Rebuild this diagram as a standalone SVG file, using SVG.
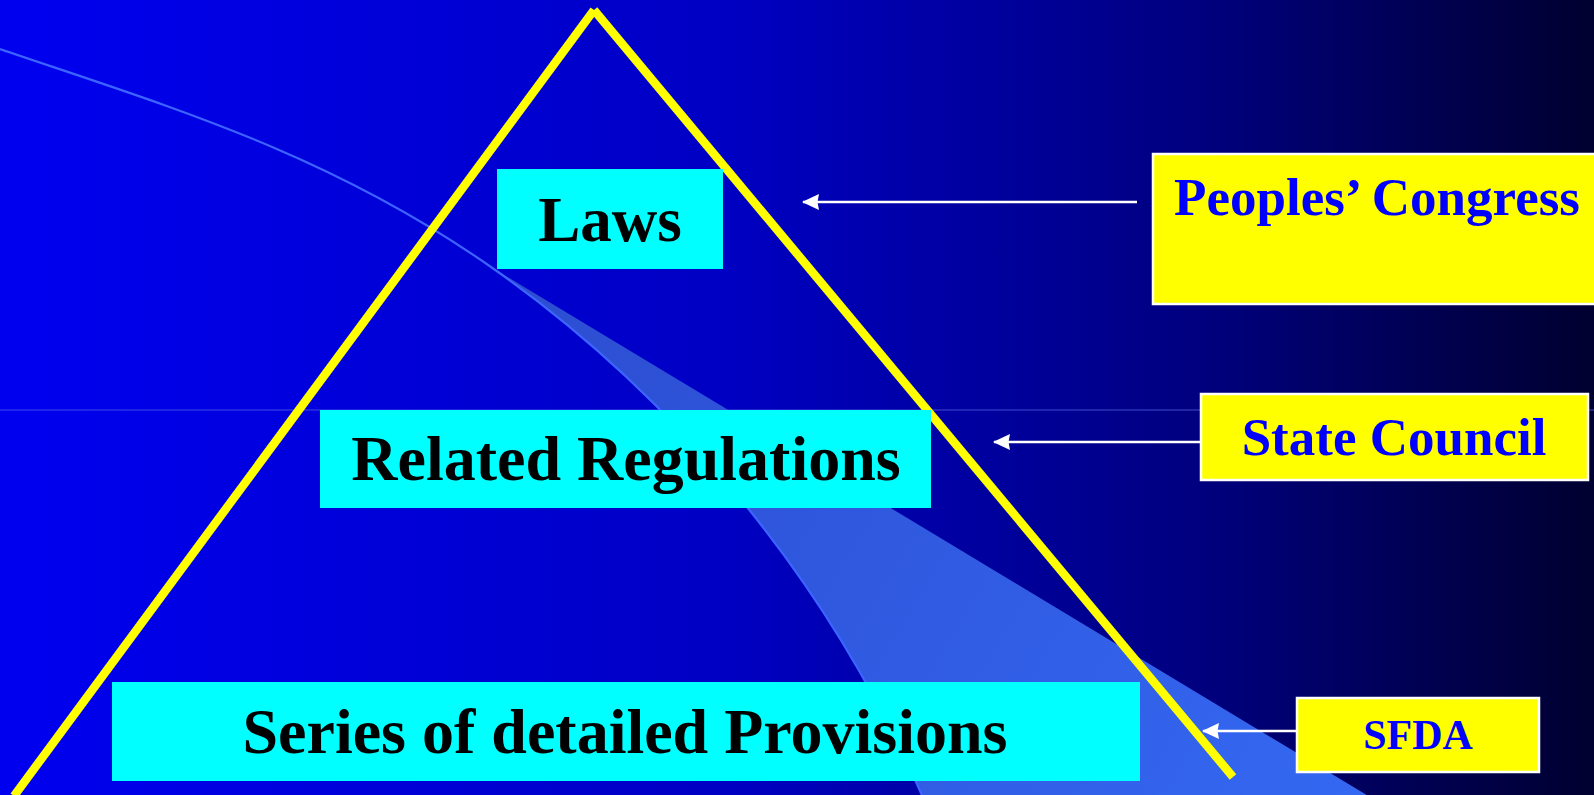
<svg xmlns="http://www.w3.org/2000/svg" width="1594" height="795" viewBox="0 0 1594 795">
  <defs>
    <linearGradient id="bg" x1="0" y1="0" x2="1" y2="0">
      <stop offset="0" stop-color="#0000F0"/>
      <stop offset="0.45" stop-color="#0000C4"/>
      <stop offset="0.75" stop-color="#000080"/>
      <stop offset="1" stop-color="#000030"/>
    </linearGradient>
    <linearGradient id="band" gradientUnits="userSpaceOnUse" x1="491" y1="267" x2="1370" y2="795">
      <stop offset="0" stop-color="#2C4CCF"/>
      <stop offset="1" stop-color="#3468F2"/>
    </linearGradient>
    <marker id="ah" markerWidth="17" markerHeight="16" refX="16" refY="8" orient="auto" markerUnits="userSpaceOnUse">
      <path d="M17,8 L0,0 L1.5,8 L0,16 Z" fill="#FFFFFF"/>
    </marker>
    <style>
      .cyan { fill: #00FFFF; }
      .yel { fill: #FFFF00; stroke: #FFFFFF; stroke-width: 2.5; }
      .blk { font-family: "Liberation Serif", "Times New Roman", serif; font-weight: bold; fill: #000000; text-anchor: middle; }
      .blu { font-family: "Liberation Serif", "Times New Roman", serif; font-weight: bold; fill: #0000FF; text-anchor: middle; }
      .leg { stroke: #FFFF00; stroke-width: 8.5; fill: none; }
      .arr { stroke: #FFFFFF; stroke-width: 2.7; fill: none; }
    </style>
  </defs>

  <g id="background">
    <rect x="0" y="0" width="1594" height="795" fill="url(#bg)"/>
    <line x1="0" y1="410" x2="1594" y2="410" stroke="#5A6AE6" stroke-width="1" opacity="0.7"/>
    <path d="M491,267 C661,386 822,565 924,800 L1375,800 Z" fill="url(#band)"/>
    <path d="M0,49 C164,105 327,152 491,267 C661,386 822,565 924,800" fill="none" stroke="#3D64FF" stroke-width="2.2"/>
  </g>

  <g id="triangle">
    <line class="leg" x1="594" y1="10" x2="14" y2="796"/>
    <line class="leg" x1="594" y1="10" x2="1233" y2="777"/>
  </g>

  <g id="node-laws">
    <rect class="cyan" x="497" y="169" width="226" height="100"/>
    <text class="blk" x="610" y="241" font-size="63">Laws</text>
  </g>

  <g id="node-regulations">
    <rect class="cyan" x="320" y="410" width="611" height="98"/>
    <text class="blk" x="626" y="480" font-size="64">Related Regulations</text>
  </g>

  <g id="node-provisions">
    <rect class="cyan" x="112" y="682" width="1028" height="99"/>
    <text class="blk" x="625" y="753" font-size="64">Series of detailed Provisions</text>
  </g>

  <g id="node-congress">
    <rect class="yel" x="1153" y="154" width="450" height="150"/>
    <text class="blu" x="1377" y="215" font-size="53">Peoples’ Congress</text>
  </g>

  <g id="node-council">
    <rect class="yel" x="1201" y="394" width="387" height="86"/>
    <text class="blu" x="1394" y="455" font-size="53">State Council</text>
  </g>

  <g id="node-sfda">
    <rect class="yel" x="1297" y="698" width="242" height="74"/>
    <text class="blu" x="1418" y="749" font-size="42">SFDA</text>
  </g>

  <g id="connectors">
    <line class="arr" x1="1137" y1="202" x2="803" y2="202" marker-end="url(#ah)"/>
    <line class="arr" x1="1200" y1="442" x2="994" y2="442" marker-end="url(#ah)"/>
    <line class="arr" x1="1296" y1="731" x2="1203" y2="731" marker-end="url(#ah)"/>
  </g>
</svg>
